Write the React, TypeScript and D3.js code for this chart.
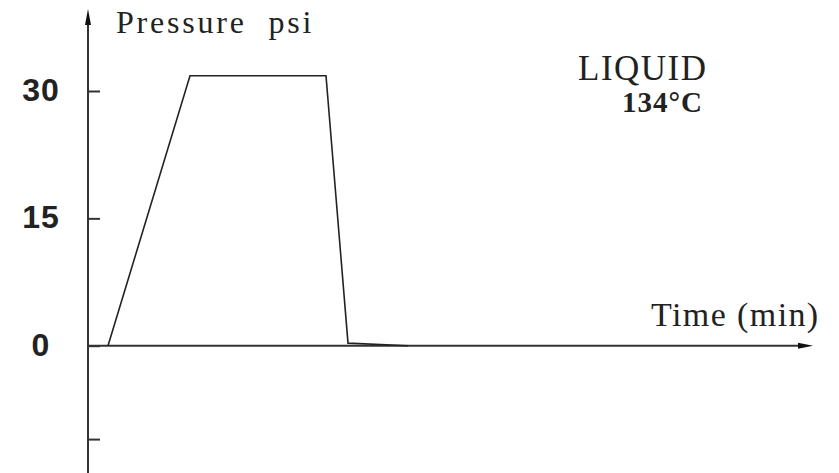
import { useEffect, useRef } from "react";
import * as d3 from "d3";

// curve (time in min, pressure in psi)
const timeMin = [1, 5.1, 11.9, 13, 16];
const pressurePsi = [0, 31.8, 31.8, 0.3, 0];

const yTicks = [30, 15, 0, -11];
const yTickLabels = ["30", "15", "0", ""];

const yTitle = "Pressure  psi";
const xTitle = "Time (min)";
const noteLines = ["LIQUID", "134°C"];

const WIDTH = 839;
const HEIGHT = 473;

export default function App() {
  const svgRef = useRef<SVGSVGElement | null>(null);

  useEffect(() => {
    const svgElement = svgRef.current;
    if (!svgElement) return;

    const svg = d3.select(svgElement);
    svg.selectAll("*").remove();

    const axisX = 88;
    const xScale = d3.scaleLinear().domain([0, 36.25]).range([axisX, 813]);
    const yScale = d3.scaleLinear().domain([0, 30]).range([345.7, 91]);
    const y0 = yScale(0);

    const axisColor = "#333";

    // y axis line + arrow
    svg.append("line")
      .attr("x1", axisX).attr("x2", axisX)
      .attr("y1", 20).attr("y2", HEIGHT)
      .attr("stroke", axisColor).attr("stroke-width", 2);
    svg.append("path")
      .attr("d", `M${axisX},9 L${axisX - 3},25 L${axisX + 3},25 Z`)
      .attr("fill", "#111");

    // x axis line + arrow
    const xEnd = xScale.range()[1];
    svg.append("line")
      .attr("x1", axisX).attr("x2", xEnd - 10)
      .attr("y1", y0).attr("y2", y0)
      .attr("stroke", axisColor).attr("stroke-width", 2);
    svg.append("path")
      .attr("d", `M${xEnd},${y0} L${xEnd - 15},${y0 - 3} L${xEnd - 15},${y0 + 3} Z`)
      .attr("fill", "#111");

    // y ticks pointing into the plot
    const yAxis = d3.axisRight(yScale)
      .tickValues(yTicks)
      .tickSize(12)
      .tickFormat(() => "");
    const yAxisG = svg.append("g")
      .attr("transform", `translate(${axisX},0)`)
      .call(yAxis);
    yAxisG.select(".domain").remove();
    yAxisG.selectAll(".tick line")
      .attr("stroke", axisColor)
      .attr("stroke-width", 2);

    svg.append("g")
      .selectAll("text")
      .data(yTicks)
      .join("text")
      .attr("x", 41)
      .attr("y", (d) => yScale(d) - 1)
      .attr("text-anchor", "middle")
      .attr("dominant-baseline", "central")
      .attr("font-family", "'Liberation Sans', Arial, sans-serif")
      .attr("font-weight", "bold")
      .attr("font-size", 32)
      .attr("letter-spacing", 1)
      .attr("fill", "#222")
      .text((_, i) => yTickLabels[i]);

    // pressure curve
    const pts = timeMin.map((t, i) => [t, pressurePsi[i]] as [number, number]);
    const line = d3.line<[number, number]>()
      .x((d) => xScale(d[0]))
      .y((d) => yScale(d[1]));
    svg.append("path")
      .datum(pts)
      .attr("fill", "none")
      .attr("stroke", "#222")
      .attr("stroke-width", 1.6)
      .attr("stroke-linejoin", "miter")
      .attr("d", line);

    const serif = "'Liberation Serif', 'Times New Roman', serif";

    svg.append("text")
      .attr("x", 116).attr("y", 33)
      .attr("font-family", serif)
      .attr("font-size", 32)
      .attr("letter-spacing", 2.8)
      .style("white-space", "pre")
      .attr("fill", "#222")
      .text(yTitle);

    svg.append("text")
      .attr("x", 651).attr("y", 326)
      .attr("font-family", serif)
      .attr("font-size", 34)
      .attr("letter-spacing", 1.4)
      .attr("fill", "#222")
      .text(xTitle);

    svg.append("text")
      .attr("x", 578).attr("y", 80)
      .attr("font-family", serif)
      .attr("font-size", 35)
      .attr("letter-spacing", 1.5)
      .attr("fill", "#222")
      .text(noteLines[0]);

    svg.append("text")
      .attr("x", 622).attr("y", 112)
      .attr("font-family", serif)
      .attr("font-weight", "bold")
      .attr("font-size", 29)
      .attr("letter-spacing", 1)
      .attr("fill", "#222")
      .text(noteLines[1]);
  }, []);

  return (
    <div style={{ position: "fixed", left: 0, top: 0, width: WIDTH, height: HEIGHT, background: "#fff" }}>
      <svg ref={svgRef} width={WIDTH} height={HEIGHT} style={{ display: "block" }} />
    </div>
  );
}
